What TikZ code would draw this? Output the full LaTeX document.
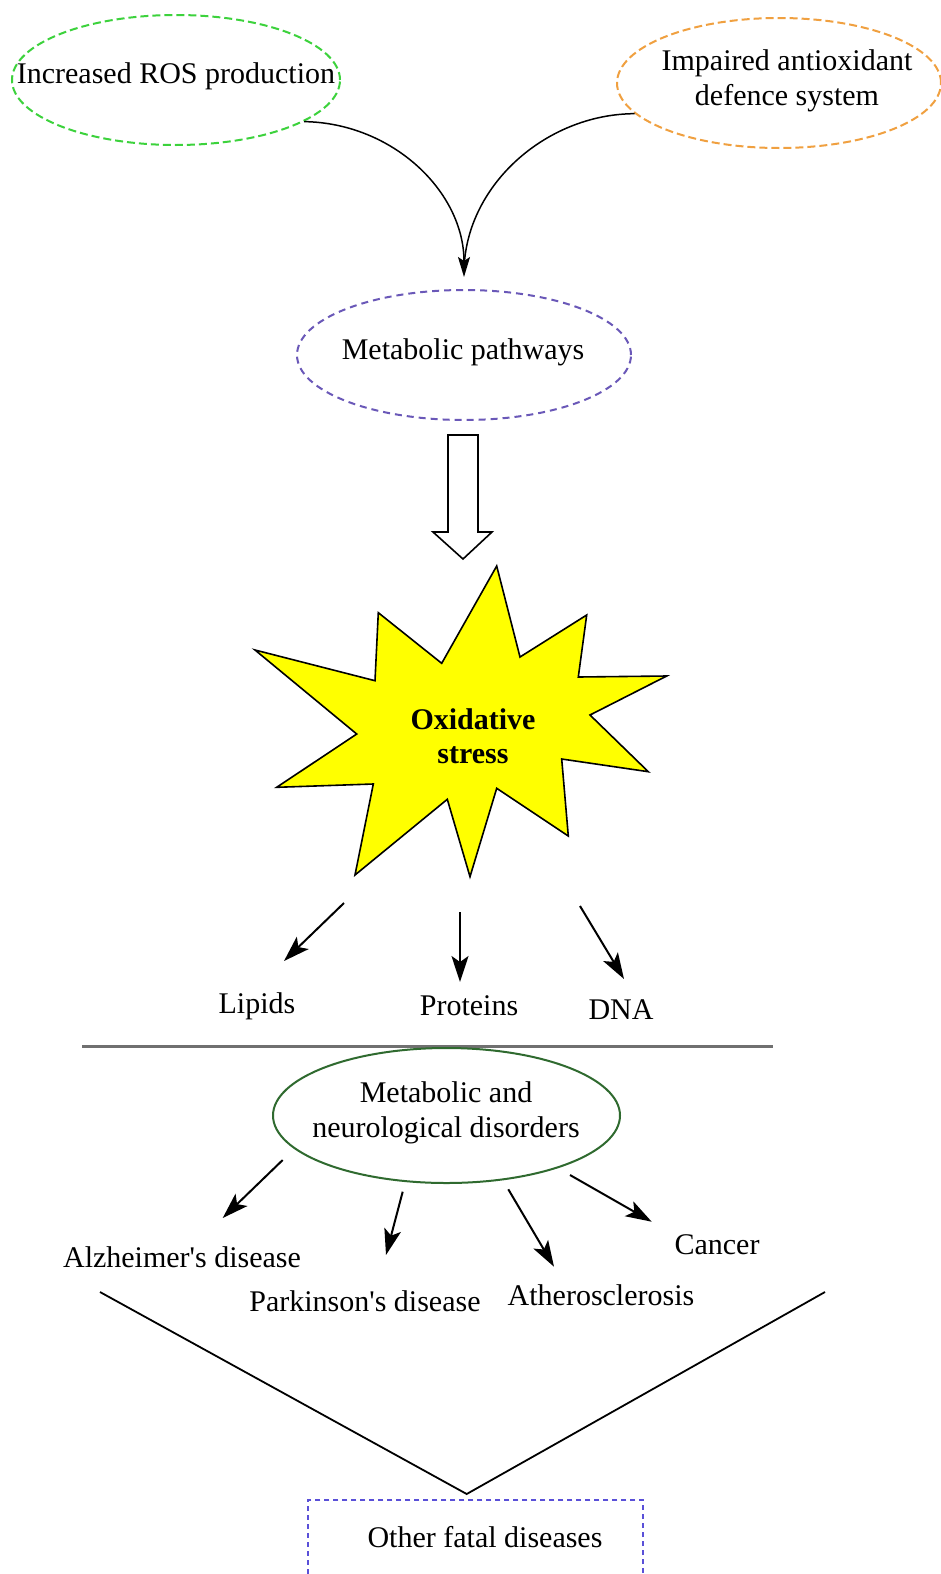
\documentclass[tikz,border=0pt]{standalone}
\usepackage{fontspec}
\setmainfont{Liberation Serif}
\usetikzlibrary{shapes.geometric,arrows.meta,calc}
\definecolor{rosgreen}{HTML}{3CD23C}
\definecolor{aorange}{HTML}{F0A040}
\definecolor{mpurple}{HTML}{6A58B8}
\definecolor{dgreen}{HTML}{2F6A2F}
\definecolor{boxblue}{HTML}{5A50D8}
\definecolor{hlgray}{HTML}{707070}
\definecolor{staryellow}{HTML}{FFFF00}
\begin{document}
\begin{tikzpicture}[x=0.5pt,y=-0.5pt,
  every node/.style={font=\fontsize{15}{17.5}\selectfont, inner sep=0pt, align=center},
  dashell/.style={ellipse, draw, line width=1pt, dash pattern=on 4pt off 2pt},
  arr/.style={line width=1pt, -{Stealth[length=13pt,width=8.5pt,inset=3pt]}},
  curvel/.style={line width=0.75pt},
]
\useasboundingbox (0,0) rectangle (941,1574);
\fill[white] (0,0) rectangle (941,1574);

% top ellipses
\node[dashell, draw=rosgreen, minimum width=164pt, minimum height=65pt] (ros) at (176,80) {};
\node (rost) at (176,76) {Increased ROS production};
\node[dashell, draw=aorange, minimum width=162pt, minimum height=65pt] (ais) at (779,83) {};
\node (aist) at (787,81) {Impaired antioxidant\\defence system};

% metabolic pathways
\node[dashell, draw=mpurple, dash pattern=on 3.5pt off 2.5pt, minimum width=167pt, minimum height=65pt] (mp) at (464,355) {};
\node (mpt) at (463,352) {Metabolic pathways};

% curved connectors
\draw[curvel, -{Stealth[length=10pt,width=6pt,inset=2pt]}] (ros.-18) .. controls (393,123) and (464,192) .. ($(mp.north)+(0,-12)$);
\draw[curvel] (ais.192) .. controls (545,114) and (464,187) .. ($(mp.north)+(0,-16)$);

% block arrow
\draw[line width=0.8pt, fill=white] (448,435) -- (478,435) -- (478,532) -- (492,532) -- (463,559) -- (433,532) -- (448,532) -- cycle;

% star
\filldraw[fill=staryellow, draw=black, line width=0.8pt, line join=miter]
  (496.7,566) -- (520,657) -- (586.7,615) -- (578.3,677) -- (666.7,676) -- (590,715)
  -- (648.3,771.7) -- (561.7,759) -- (568.3,836) -- (496.7,788.3) -- (470,876.7)
  -- (447.3,799.3) -- (355,875) -- (373.3,784) -- (276.7,787.3) -- (356.7,734)
  -- (255,650) -- (375,680.7) -- (378.3,612.7) -- (441.7,663.3) -- cycle;
\node[font=\fontsize{15}{17}\selectfont\bfseries] (os) at (473,736) {Oxidative\\stress};

% targets
\node (lip) at (257,1006) {Lipids};
\node (pro) at (469,1006) {Proteins};
\node (dna) at (621,1010) {DNA};
\coordinate (a1s) at (344,903); \coordinate (a1e) at (284,961);
\coordinate (a2s) at (460,912); \coordinate (a2e) at (460,982);
\coordinate (a3s) at (580,906); \coordinate (a3e) at (624,979);
\draw[arr] (a1s) -- (a1e);
\draw[arr] (a2s) -- (a2e);
\draw[arr] (a3s) -- (a3e);

% separator
\coordinate (hl1) at (82,1046.5); \coordinate (hl2) at (773,1046.5);
\draw[hlgray, line width=1.3pt] (hl1) -- (hl2);

% disorders
\node[ellipse, draw=dgreen, line width=1pt, minimum width=173.5pt, minimum height=67.5pt] (mnd) at (446.5,1115.5) {};
\node (mndt) at (446,1112.5) {Metabolic and\\neurological disorders};

\node (alz) at (182,1257) {Alzheimer\textquotesingle s disease};
\node (park) at (365,1301) {Parkinson\textquotesingle s disease};
\node (ath) at (601,1295) {Atherosclerosis};
\node (can) at (717,1245) {Cancer};
\coordinate (b1s) at (282.7,1160); \coordinate (b1e) at (222.7,1218);
\coordinate (b2s) at (402.7,1191.7); \coordinate (b2e) at (386,1255);
\coordinate (b3s) at (508.3,1189.3); \coordinate (b3e) at (554,1266.7);
\coordinate (b4s) at (570,1175); \coordinate (b4e) at (651.7,1221.7);
\draw[arr] (b1s) -- (b1e);
\draw[arr] (b2s) -- (b2e);
\draw[arr] (b3s) -- (b3e);
\draw[arr] (b4s) -- (b4e);

% V and final box
\node[draw=boxblue, line width=1pt, dash pattern=on 2.5pt off 2pt, minimum width=167.5pt, minimum height=40pt, anchor=north] (ofd) at (475.8,1499) {};
\node (ofdt) at (485,1537) {Other fatal diseases};
\coordinate (vl) at (100,1292); \coordinate (vr) at (825,1292); \coordinate (vt) at (466.7,1494);
\draw[line width=0.9pt] (vl) -- (vt) -- (vr);
\end{tikzpicture}
\end{document}
